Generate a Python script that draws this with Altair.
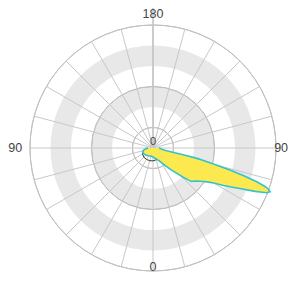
import altair as alt
import pandas as pd
import numpy as np

# ---- data -------------------------------------------------------------
ring_values = [100, 200, 300, 400, 500, 600]
band_inner = [200, 400]
band_outer = [300, 500]
spoke_angles = list(range(0, 360, 15))

# main C-plane (yellow lobe): gamma in degrees (0 = nadir, +90 = right), intensity
lobe_gamma = [-90, -80, -70, -60, -45, -30, -15, 0, 15, 25, 30, 35, 40, 43, 46, 48, 49,
              52, 55, 58, 60, 62, 64, 65, 66, 67, 68, 68.5, 69.5, 70.5, 71, 72, 73, 74,
              75, 76, 76.7, 77.3, 77.7, 78.5, 80, 84, 90]
lobe_int = [24, 44, 54, 54, 49, 44, 41, 44, 54, 68, 83, 107, 141, 168, 205, 234, 249,
            261, 283, 312, 341, 390, 439, 468, 502, 541, 576, 595, 610, 595, 580, 532, 463, 390,
            312, 254, 220, 156, 98, 68, 54, 39, 29]

# second C-plane (dark outline)
c2_gamma = [-90, -75, -60, -45, -30, -15, 0, 20, 40, 60, 75, 90]
c2_int = [29, 49, 59, 63, 64, 64, 63, 59, 49, 39, 32, 24]

label_text = ["180", "90", "90", "0"]
label_angle = [180, -90, 90, 0]
label_radius = [652, 672, 625, 582]

# ---- frames -----------------------------------------------------------
band_df = pd.DataFrame({"inner": band_inner, "outer": band_outer})
ring_df = pd.DataFrame({"r": ring_values})
spoke_df = pd.DataFrame({"a": spoke_angles})
lobe_df = pd.DataFrame({"idx": range(len(lobe_gamma)), "g": lobe_gamma, "I": lobe_int})
c2_df = pd.DataFrame({"idx": range(len(c2_gamma)), "g": c2_gamma, "I": c2_int})
lab_df = pd.DataFrame({"t": label_text, "g": label_angle, "I": label_radius})

R = 600
xs = alt.Scale(domain=[-R, R], nice=False, zero=False)
ys = alt.Scale(domain=[-R, R], nice=False, zero=False)
rs = alt.Scale(domain=[0, R], range=[0, 123], zero=True, nice=False)

TWO_PI = 6.283185307

bands = alt.Chart(band_df).mark_arc(theta=0, theta2=TWO_PI, fill="#e8e8e8", strokeWidth=0).encode(
    radius=alt.Radius("outer:Q", scale=rs),
    radius2=alt.Radius2("inner:Q"),
)

rings = alt.Chart(ring_df).mark_arc(theta=0, theta2=TWO_PI, fillOpacity=0,
                                    stroke="#c0c0c0", strokeWidth=1).encode(
    radius=alt.Radius("r:Q", scale=rs),
)

spokes = alt.Chart(spoke_df).transform_calculate(
    x0="0", y0="0",
    x1=f"{R}*sin(datum.a*PI/180)", y1=f"{R}*cos(datum.a*PI/180)",
).mark_rule(color="#c8c8c8", strokeWidth=1).encode(
    x=alt.X("x0:Q", scale=xs, axis=None),
    y=alt.Y("y0:Q", scale=ys, axis=None),
    x2="x1:Q", y2="y1:Q",
)

def polar(df):
    return alt.Chart(df).transform_calculate(
        x="datum.I*sin(datum.g*PI/180)",
        y="-datum.I*cos(datum.g*PI/180)",
    )

c2 = polar(c2_df).mark_line(color="#333333", strokeWidth=1).encode(
    x=alt.X("x:Q", scale=xs, axis=None),
    y=alt.Y("y:Q", scale=ys, axis=None),
    order="idx:Q",
)

lobe = polar(lobe_df).mark_line(fill="#fbe94f", stroke="#33c3cc", strokeWidth=1.6).encode(
    x=alt.X("x:Q", scale=xs, axis=None),
    y=alt.Y("y:Q", scale=ys, axis=None),
    order="idx:Q",
)

labels = polar(lab_df).mark_text(font="Liberation Sans", fontSize=12.5, color="#444444",
                                 align="center", baseline="middle").encode(
    x=alt.X("x:Q", scale=xs, axis=None),
    y=alt.Y("y:Q", scale=ys, axis=None),
    text="t:N",
)

center_lab = alt.Chart(pd.DataFrame({"t": ["0"]})).mark_text(
    font="Liberation Sans", fontSize=11, color="#444444", align="center", baseline="bottom", dy=-1
).encode(
    x=alt.X("x:Q", scale=xs, axis=None),
    y=alt.Y("y:Q", scale=ys, axis=None),
    text="t:N",
).transform_calculate(x="0", y="0")

chart = alt.layer(bands, rings, spokes, c2, lobe, center_lab, labels).properties(
    width=246, height=246,
    autosize="none",
    padding={"left": 22, "top": 17, "right": 12, "bottom": 2},
).configure_view(stroke=None)

chart.save("out.html", embed_options={"renderer": "svg", "actions": False})
